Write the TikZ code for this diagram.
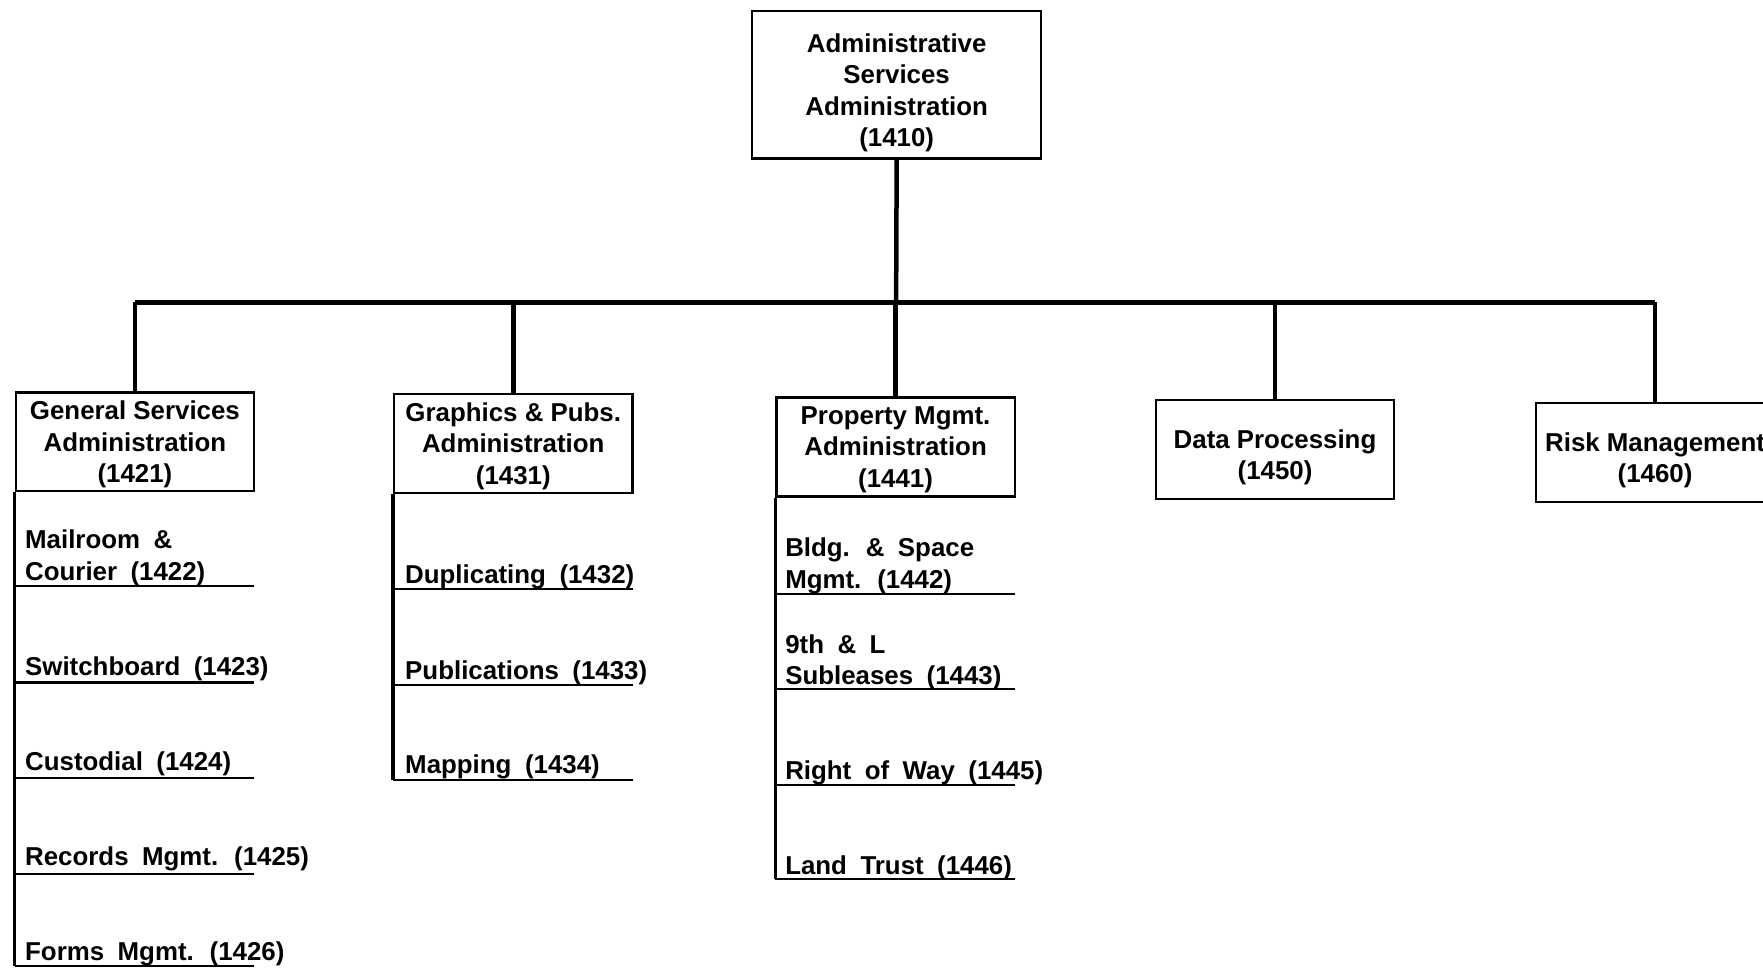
\documentclass[tikz,border=0pt]{standalone}
\usepackage{fontspec}
\setmainfont{Liberation Sans}
\newcommand\boxfont{\bfseries\fontsize{11.5}{14}\selectfont}
\newcommand\itemfont{\bfseries\fontsize{11.5}{14}\selectfont\spaceskip=6pt\relax}
\newcommand\toplift{\rule{0pt}{12.9pt}}
\begin{document}
\begin{tikzpicture}[x=0.5pt,y=-0.5pt]
    \useasboundingbox (0,0) rectangle (1568,861);

    \begin{scope}[every node/.style={draw, line width=1pt, align=center, inner sep=0pt, minimum width=106pt, minimum height=44pt, text depth=0pt, font=\boxfont}]
        \node[minimum width=128.5pt, minimum height=65.5pt] (asa) at (797.5,75.5) {\toplift Administrative\\Services\\Administration\\(1410)};
        \node (gsa) at (120,393) {General Services\\Administration\\(1421)};
        \node (gpa) at (456.5,394.5) {Graphics \& Pubs.\\Administration\\(1431)};
        \node (pma) at (796.5,397.5) {Property Mgmt.\\Administration\\(1441)};
        \node (dp) at (1134,400) {\toplift Data Processing\\(1450)};
        \node (rm) at (1472,402.5) {\toplift Risk Management\\(1460)};
    \end{scope}

    \begin{scope}[every node/.style={anchor=base west, inner sep=0pt, align=left, font=\itemfont}]
        \node (t22) at (22,516) {Mailroom \&\\Courier (1422)};
        \node (t23) at (22,601) {Switchboard (1423)};
        \node (t24) at (22,685) {Custodial (1424)};
        \node (t25) at (22,770) {Records Mgmt. (1425)};
        \node (t26) at (22,854) {Forms Mgmt. (1426)};
        \node (t32) at (360,519) {Duplicating (1432)};
        \node (t33) at (360,604) {Publications (1433)};
        \node (t34) at (360,688) {Mapping (1434)};
        \node (t42) at (698,523) {Bldg. \& Space\\Mgmt. (1442)};
        \node (t43) at (698,609) {9th \& L\\Subleases (1443)};
        \node (t45) at (698,693) {Right of Way (1445)};
        \node (t46) at (698,778) {Land Trust (1446)};
    \end{scope}

    % underline ends
    \coordinate (u22) at (226,521);
    \coordinate (u23) at (226,607);
    \coordinate (u24) at (226,692);
    \coordinate (u25) at (226,777);
    \coordinate (u26) at (226,859);
    \coordinate (u32) at (563,524);
    \coordinate (u33) at (563,609);
    \coordinate (u34) at (563,694);
    \coordinate (u42) at (903,528);
    \coordinate (u43) at (903,613);
    \coordinate (u45) at (903,698);
    \coordinate (u46) at (903,782);
    \coordinate (bus) at (797,269);

    \begin{scope}[every edge/.style={draw, line width=2pt}]
        \path [-] (asa.south) edge (bus);
        \path [-] (gsa.north |- bus) edge (rm.north |- bus);
        \path [-] (gsa.north |- bus) edge (gsa.north);
        \path [-] (gpa.north |- bus) edge (gpa.north);
        \path [-] (pma.north |- bus) edge (pma.north);
        \path [-] (dp.north |- bus) edge (dp.north);
        \path [-] (rm.north |- bus) edge (rm.north);
    \end{scope}

    \begin{scope}[every edge/.style={draw, line width=1.5pt}]
        \path [-] (gsa.south west) edge (gsa.west |- u26);
        \path [-] (gpa.south west) edge (gpa.west |- u34);
        \path [-] (pma.south west) edge (pma.west |- u46);
    \end{scope}

    \begin{scope}[every edge/.style={draw, line width=0.9pt}]
        \path [-] (gsa.west |- u22) edge (u22);
        \path [-] (gsa.west |- u23) edge (u23);
        \path [-] (gsa.west |- u24) edge (u24);
        \path [-] (gsa.west |- u25) edge (u25);
        \path [-] (gsa.west |- u26) edge (u26);
        \path [-] (gpa.west |- u32) edge (u32);
        \path [-] (gpa.west |- u33) edge (u33);
        \path [-] (gpa.west |- u34) edge (u34);
        \path [-] (pma.west |- u42) edge (u42);
        \path [-] (pma.west |- u43) edge (u43);
        \path [-] (pma.west |- u45) edge (u45);
        \path [-] (pma.west |- u46) edge (u46);
    \end{scope}
\end{tikzpicture}
\end{document}
